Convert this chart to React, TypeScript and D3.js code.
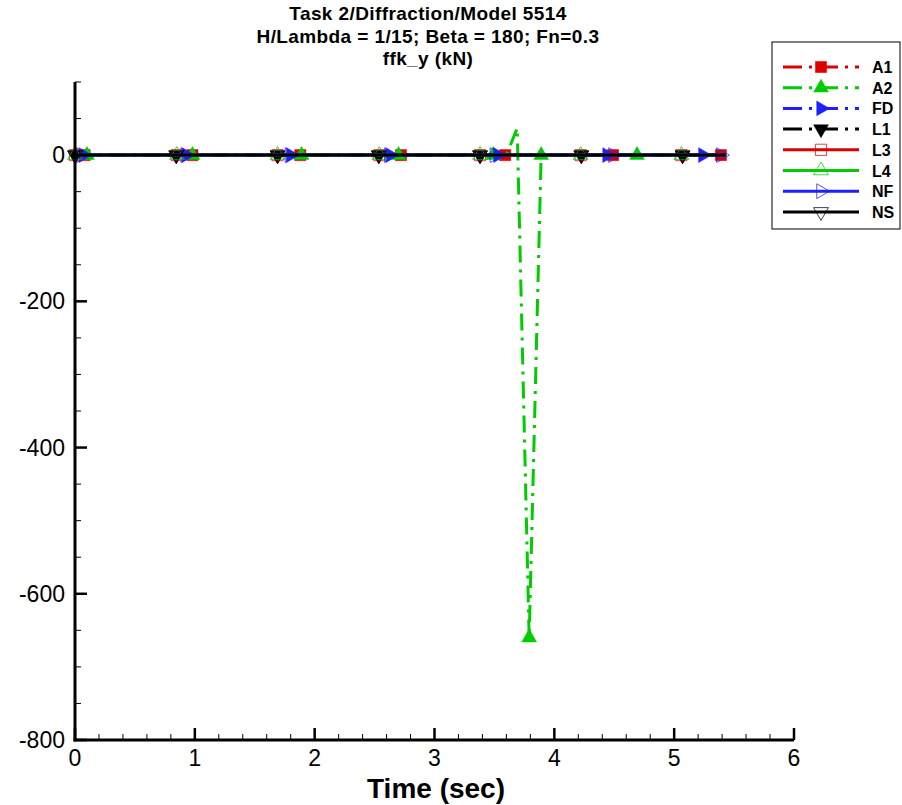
import React from "react";
import * as d3 from "d3";

const titleLines = ["Task 2/Diffraction/Model 5514", "H/Lambda = 1/15; Beta = 180; Fn=0.3", "ffk_y (kN)"];
const xLabel = "Time (sec)";
const xTicks = [0, 1, 2, 3, 4, 5, 6];
const yTicks = [0, -200, -400, -600, -800];
const xDomain = [0, 6];
const yDomain = [-800, 100];

// time, value, marker flag (1 = marker drawn at this point)
const a1T = [0, 0.08, 0.98, 1.88, 2.72, 3.59, 4.49, 5.39, 5.43];
const a1Y = [0, 0, 0, 0, 0, 0, 0, 0, 0];
const a1M = [0, 1, 1, 1, 1, 1, 1, 1, 0];

const a2T = [0, 0.1, 0.98, 1.89, 2.7, 3.49, 3.6, 3.69, 3.79, 3.89, 4.69, 5.43];
const a2Y = [0, 0, 0, 0, 0, 0, 0, 37, -660, 0, 0, 0];
const a2M = [0, 1, 1, 1, 1, 1, 0, 0, 1, 1, 1, 0];

const fdT = [0, 0.07, 0.93, 1.8, 2.63, 3.53, 4.44, 5.24, 5.43];
const fdY = [0, 0, 0, 0, 0, 0, 0, 0, 0];
const fdM = [0, 1, 1, 1, 1, 1, 1, 1, 0];

const l1T = [0, 0.845, 1.69, 2.535, 3.38, 4.225, 5.07, 5.43];
const l1Y = [0, 0, 0, 0, 0, 0, 0, 0];
const l1M = [1, 1, 1, 1, 1, 1, 1, 0];

const l3T = [0, 0.85, 1.69, 2.54, 3.38, 4.22, 5.06, 5.43];
const l3Y = [0, 0, 0, 0, 0, 0, 0, 0];
const l3M = [1, 1, 1, 1, 1, 1, 1, 0];

const l4T = [0, 0.85, 1.69, 2.54, 3.38, 4.22, 5.06, 5.43];
const l4Y = [0, 0, 0, 0, 0, 0, 0, 0];
const l4M = [1, 1, 1, 1, 1, 1, 1, 0];

const nfT = [0, 0.05, 0.92, 1.79, 2.62, 3.5, 4.49, 5.39, 5.43];
const nfY = [0, 0, 0, 0, 0, 0, 0, 0, 0];
const nfM = [0, 1, 1, 1, 1, 1, 1, 1, 0];

const nsT = [0, 0.845, 1.69, 2.535, 3.38, 4.225, 5.07, 5.43];
const nsY = [0, 0, 0, 0, 0, 0, 0, 0];
const nsM = [1, 1, 1, 1, 1, 1, 1, 0];

const seriesNames = ["A1", "A2", "FD", "L1", "L3", "L4", "NF", "NS"];

const RED = "#dd0000";
const GREEN = "#00cc00";
const BLUE = "#1e1eff";
const BLACK = "#000000";
const DASH = "17,7,3,7";

type Style = { color: string; dash: string | null; shape: string; filled: boolean };
const styles: Style[] = [
  { color: RED, dash: DASH, shape: "square", filled: true },
  { color: GREEN, dash: DASH, shape: "up", filled: true },
  { color: BLUE, dash: DASH, shape: "right", filled: true },
  { color: BLACK, dash: DASH, shape: "down", filled: true },
  { color: RED, dash: null, shape: "square", filled: false },
  { color: GREEN, dash: null, shape: "up", filled: false },
  { color: BLUE, dash: null, shape: "right", filled: false },
  { color: BLACK, dash: null, shape: "down", filled: false },
];

const seriesData = [
  [a1T, a1Y, a1M],
  [a2T, a2Y, a2M],
  [fdT, fdY, fdM],
  [l1T, l1Y, l1M],
  [l3T, l3Y, l3M],
  [l4T, l4Y, l4M],
  [nfT, nfY, nfM],
  [nsT, nsY, nsM],
];

const W = 902;
const H = 805;
const left = 75;
const right = 794;
const top = 82;
const bottom = 740;

function Marker({ x, y, st }: { x: number; y: number; st: Style }) {
  const isSq = st.shape === "square";
  const path = d3.symbol().type(isSq ? d3.symbolSquare : d3.symbolTriangle).size(isSq ? 125 : 95)();
  const rot = st.shape === "down" ? 180 : st.shape === "right" ? 90 : 0;
  return (
    <path
      d={path || ""}
      transform={`translate(${x},${y}) rotate(${rot})`}
      fill={st.filled ? st.color : "none"}
      stroke={st.color}
      strokeWidth={st.filled ? 0.5 : 1}
      opacity={st.filled ? 1 : 0.75}
    />
  );
}

export default function App() {
  const x = d3.scaleLinear().domain(xDomain).range([left, right]);
  const y = d3.scaleLinear().domain(yDomain).range([bottom, top]);
  const line = d3
    .line<[number, number]>()
    .x((d) => x(d[0]))
    .y((d) => y(d[1]));

  const xMinor = d3.range(0, 6.0001, 0.2).filter((v) => Math.abs(v - Math.round(v)) > 1e-6);
  const yMinor = d3.range(-800, 100.001, 50).filter((v) => Math.abs(v % 200) > 1e-6);

  const font = "Arial, 'Liberation Sans', Helvetica, sans-serif";
  const legX = 783;
  const legY0 = 67;
  const legDy = 20.7;

  return (
    <svg width={W} height={H} style={{ position: "absolute", left: 0, top: 0, background: "#fff" }} fontFamily={font}>
      <rect x={0} y={0} width={W} height={H} fill="#fff" />
      {/* title */}
      {titleLines.map((t, i) => (
        <text key={i} x={428} y={20 + i * 22.5} textAnchor="middle" fontWeight="bold" fontSize={19} letterSpacing={0.4}>
          {t}
        </text>
      ))}

      {/* series */}
      {seriesData.map((s, si) => {
        const [ts, ys, ms] = s;
        const pts = ts.map((t, i) => [t, ys[i]] as [number, number]);
        const st = styles[si];
        return (
          <g key={si}>
            <path
              d={line(pts) || ""}
              fill="none"
              stroke={st.color}
              strokeWidth={3}
              strokeDasharray={st.dash || undefined}
            />
            {pts.map((p, i) =>
              ms[i] ? <Marker key={i} x={x(p[0])} y={y(p[1])} st={st} /> : null
            )}
          </g>
        );
      })}

      {/* axes */}
      <line x1={left} x2={left} y1={top} y2={bottom + 1.5} stroke="#000" strokeWidth={3} />
      <line x1={left - 1.5} x2={right} y1={bottom} y2={bottom} stroke="#000" strokeWidth={3} />
      {xTicks.map((v) => (
        <g key={"xt" + v}>
          <line x1={x(v)} x2={x(v)} y1={bottom} y2={bottom - 12} stroke="#000" strokeWidth={2.5} />
          <text x={x(v)} y={766} textAnchor="middle" fontSize={23}>
            {v}
          </text>
        </g>
      ))}
      {xMinor.map((v, i) => (
        <line key={"xm" + i} x1={x(v)} x2={x(v)} y1={bottom} y2={bottom - 6} stroke="#000" strokeWidth={1} />
      ))}
      {yTicks.map((v) => (
        <g key={"yt" + v}>
          <line x1={left} x2={left + 12} y1={y(v)} y2={y(v)} stroke="#000" strokeWidth={2.5} />
          <text x={65} y={y(v) + 8} textAnchor="end" fontSize={23}>
            {v}
          </text>
        </g>
      ))}
      {yMinor.map((v, i) => (
        <line key={"ym" + i} x1={left} x2={left + 6} y1={y(v)} y2={y(v)} stroke="#000" strokeWidth={1} />
      ))}
      <text x={436} y={798} textAnchor="middle" fontWeight="bold" fontSize={28}>
        {xLabel}
      </text>

      {/* legend */}
      <rect x={772} y={42} width={128} height={187} fill="#fff" stroke="#000" strokeWidth={1} />
      {seriesNames.map((n, i) => {
        const st = styles[i];
        const yy = legY0 + i * legDy;
        return (
          <g key={"lg" + n}>
            <line
              x1={legX}
              x2={legX + 76}
              y1={yy}
              y2={yy}
              stroke={st.color}
              strokeWidth={3}
              strokeDasharray={st.dash ? "19,7,3,7" : undefined}
            />
            <Marker x={legX + 38} y={yy} st={st} />
            <text x={872} y={yy + 6} fontWeight="bold" fontSize={16}>
              {n}
            </text>
          </g>
        );
      })}
    </svg>
  );
}
